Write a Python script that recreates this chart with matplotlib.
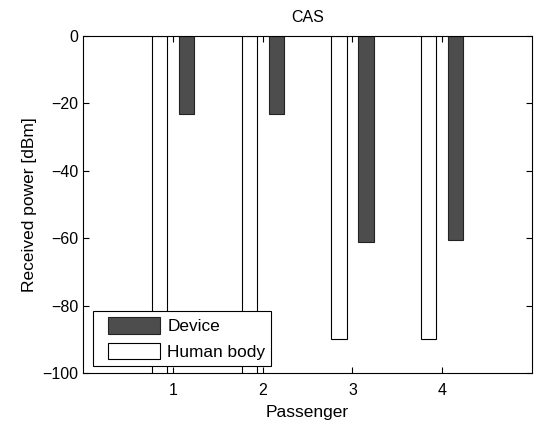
import numpy as np
import matplotlib
matplotlib.use("Agg")
import matplotlib.pyplot as plt
from matplotlib.patches import Rectangle
from matplotlib.container import BarContainer
from matplotlib.legend_handler import HandlerPatch, update_from_first_child

passengers = [1, 2, 3, 4]
device = [-23, -23, -61, -60.5]
human_body = [-110, -110, -90, -90]

plt.rcParams['font.family'] = ['Liberation Sans', 'DejaVu Sans']
plt.rcParams['font.size'] = 11.5

fig = plt.figure(figsize=(5.34, 4.26), dpi=100)
ax = fig.add_axes([0.156, 0.1244, 0.84, 0.7911])

x = np.array(passengers)
w = 0.17
ax.bar(x - 0.15, human_body, w, color='white', edgecolor='black', linewidth=0.8,
       label='Human body', zorder=2)
ax.bar(x + 0.15, device, w, color='#4d4d4d', edgecolor='#222222', linewidth=0.8,
       label='Device', zorder=2)

ax.set_xlim(0, 5)
ax.set_ylim(-100, 0)
ax.set_xticks(passengers)
ax.set_yticks(np.arange(-100, 1, 20))
ax.tick_params(direction='in', top=True, right=True, length=4, width=0.8,
               labelsize=11.5)
ax.tick_params(axis='x', pad=7)
for s in ax.spines.values():
    s.set_linewidth(0.8)

ax.set_xlabel('Passenger', fontsize=12.5, labelpad=5)
ax.set_ylabel('Received power [dBm]', fontsize=12.5, labelpad=4)
ax.set_title('CAS', fontsize=11.5, pad=10)


# legend patches sit a bit in from the frame's left edge, like matlab
def shifted_patch(legend, orig_handle, xdescent, ydescent, width, height, fontsize):
    off = 6
    return Rectangle((-xdescent + off, -ydescent), width - off, height)


h, l = ax.get_legend_handles_labels()
leg = ax.legend(h[::-1], l[::-1], loc='lower left', bbox_to_anchor=(0.022, 0.021),
                borderaxespad=0, fancybox=False, framealpha=1, edgecolor='black',
                handlelength=3.55, handleheight=1.12, fontsize=12.4,
                borderpad=0.35, labelspacing=0.5, handletextpad=0.4,
                handler_map={BarContainer: HandlerPatch(patch_func=shifted_patch,
                                                        update_func=update_from_first_child)})
leg.get_frame().set_linewidth(0.8)
leg.set_zorder(5)

fig.savefig('out.png', dpi=100)
